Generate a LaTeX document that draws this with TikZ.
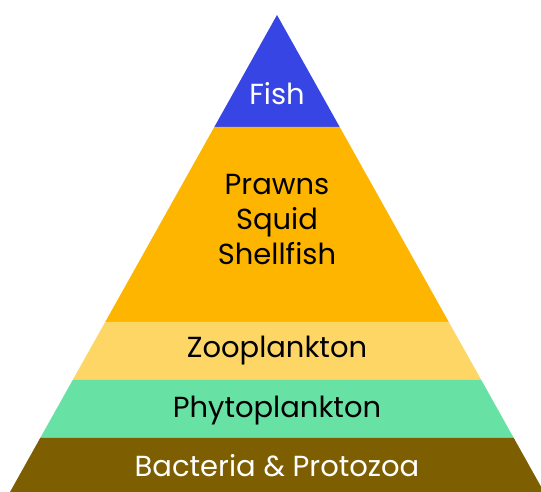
\documentclass[tikz,border=0pt]{standalone}
\usepackage{fontspec}
\setmainfont{Poppins}
\usetikzlibrary{positioning}

\begin{document}
\begin{tikzpicture}[x=1pt,y=1pt,
  layer/.style={draw=none},
  lab/.style={font=\fontsize{29}{35}\selectfont,anchor=base,align=center}]
  \useasboundingbox (0,0) rectangle (541,492);
  \definecolor{fishblue}{RGB}{54,69,228}
  \definecolor{prawnorange}{RGB}{253,181,0}
  \definecolor{zooyellow}{RGB}{253,214,102}
  \definecolor{phytogreen}{RGB}{104,225,165}
  \definecolor{bactbrown}{RGB}{125,94,0}
  % pyramid corners, level by level
  \coordinate (top) at (277,477);
  \coordinate (l1) at (214.3,365); \coordinate (r1) at (339.7,365);
  \coordinate (l2) at (105.2,170); \coordinate (r2) at (448.8,170);
  \coordinate (l3) at (72.7,112);  \coordinate (r3) at (481.3,112);
  \coordinate (l4) at (40.2,54);   \coordinate (r4) at (513.8,54);
  \coordinate (l5) at (10,0);      \coordinate (r5) at (544,0);
  \fill[layer,fishblue] (top)--(r1)--(l1)--cycle;
  \fill[layer,prawnorange] (l1)--(r1)--(r2)--(l2)--cycle;
  \fill[layer,zooyellow] (l2)--(r2)--(r3)--(l3)--cycle;
  \fill[layer,phytogreen] (l3)--(r3)--(r4)--(l4)--cycle;
  \fill[layer,bactbrown] (l4)--(r4)--(r5)--(l5)--cycle;
  \node[lab,text=white] (fish) at (277,387) {Fish};
  \node[lab] (prawns) at (277,227) {Prawns\\Squid\\Shellfish};
  \node[lab] (zoo) at (277,134) {Zooplankton};
  \node[lab] (phyto) at (277,74) {Phytoplankton};
  \node[lab,text=white] (bact) at (277,15) {Bacteria \& Protozoa};
\end{tikzpicture}
\end{document}
